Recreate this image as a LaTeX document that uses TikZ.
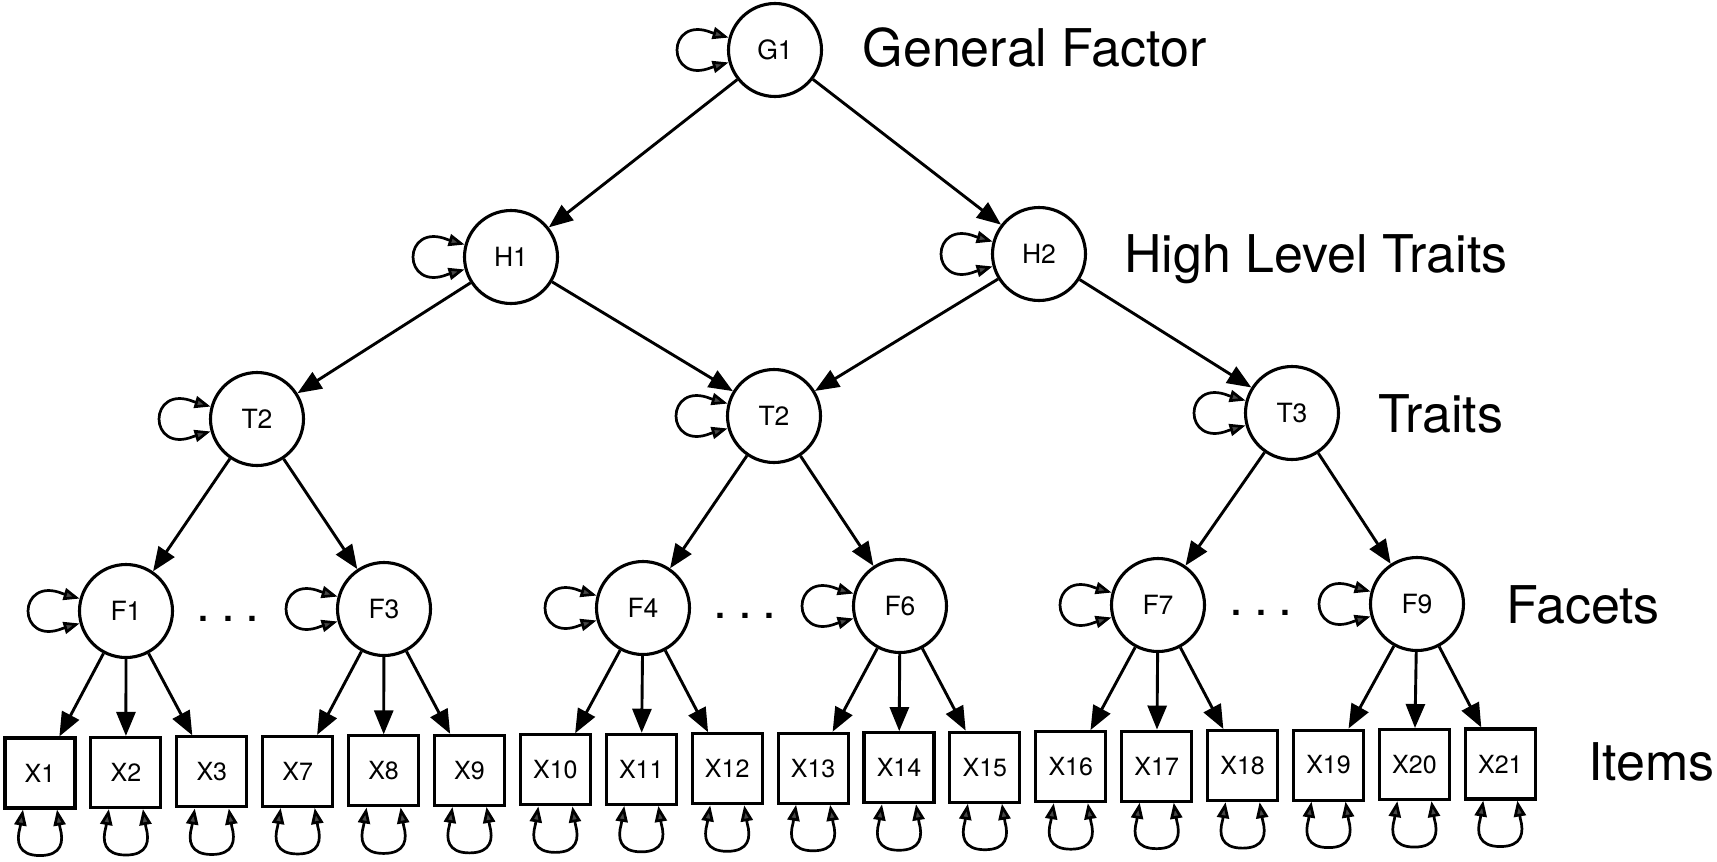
\documentclass[tikz,border=0pt]{standalone}
\usepackage{fontspec}
\setmainfont{TeX Gyre Heros}
\usetikzlibrary{arrows.meta}
\definecolor{tipgray}{gray}{0.28}
\begin{document}
\begin{tikzpicture}[x=1pt,y=-1pt,
  latent/.style={circle,draw,line width=3.1pt,minimum size=93pt,inner sep=0pt,
    font=\fontsize{26.5}{30}\selectfont},
  item/.style={rectangle,draw,line width=3.1pt,minimum size=70pt,inner sep=0pt,
    font=\fontsize{25}{29}\selectfont},
  level/.style={anchor=base west,inner sep=0pt,font=\fontsize{52}{62}\selectfont},
  dots/.style={anchor=base,inner sep=0pt,font=\fontsize{50}{60}\selectfont},
  load/.style={line width=2.9pt,-{Triangle[length=24pt,width=19pt]}},
  var/.style={line width=2.7pt,
    {Triangle[length=16pt,width=12pt,fill=tipgray]}-{Triangle[length=16pt,width=12pt,fill=tipgray]}},
]
\useasboundingbox (0,0) rectangle (1717,862);

% latent variables
\node[latent] (G1)  at (775,50)  {G1};
\node[latent] (H1)  at (511,257) {H1};
\node[latent] (H2)  at (1039,254) {H2};
\node[latent] (T2a) at (257,419) {T2};
\node[latent] (T2b) at (774,416) {T2};
\node[latent] (T3)  at (1292,413) {T3};
\node[latent] (F1)  at (126,611) {F1};
\node[latent] (F3)  at (384,609) {F3};
\node[latent] (F4)  at (643,608) {F4};
\node[latent] (F6)  at (900,606) {F6};
\node[latent] (F7)  at (1158,605) {F7};
\node[latent] (F9)  at (1417,604) {F9};

% variance loops on the latent variables, bulging to the left
\foreach \n in {G1,H1,H2,T2a,T2b,T3,F1,F3,F4,F6,F7,F9}
  \draw[var] (\n.165) -- ([shift={(-17,-5)}]\n.165)
     .. controls +(-22,-9) and +(0,-14) .. ([shift={(-98,0)}]\n.center)
     .. controls +(0,14) and +(-22,9) .. ([shift={(-17,5)}]\n.195) -- (\n.195);

% observed items with their variance loops below
\foreach \lab [count=\k from 0] in {1,2,3,7,8,9,10,11,12,13,14,15,16,17,18,19,20,21}{
  \pgfmathsetmacro\xx{40+85.9*\k}
  \pgfmathsetmacro\yy{773-0.53*\k}
  \node[item] (X\lab) at (\xx,\yy) {X\lab};
  \draw[var] ([xshift=-17pt]X\lab.south) -- ([shift={(-20,18)}]X\lab.south)
     .. controls +(-4,14) and +(-22,0) .. ([shift={(0,46)}]X\lab.south)
     .. controls +(22,0) and +(4,14) .. ([shift={(20,18)}]X\lab.south) -- ([xshift=17pt]X\lab.south);
}

% loadings
\foreach \a/\b in {G1/H1,G1/H2,H1/T2a,H1/T2b,H2/T2b,H2/T3,
    T2a/F1,T2a/F3,T2b/F4,T2b/F6,T3/F7,T3/F9,
    F1/X1,F1/X2,F1/X3,F3/X7,F3/X8,F3/X9,
    F4/X10,F4/X11,F4/X12,F6/X13,F6/X14,F6/X15,
    F7/X16,F7/X17,F7/X18,F9/X19,F9/X20,F9/X21}
  \draw[load] (\a) -- (\b);

% ellipses between facets
\node[dots] (d1) at (228,621)  {.\hspace{11pt}.\hspace{11pt}.};
\node[dots] (d2) at (745,618)  {.\hspace{11pt}.\hspace{11pt}.};
\node[dots] (d3) at (1261,615) {.\hspace{11pt}.\hspace{11pt}.};

% level labels
\node[level] (lg) at (862.5,66) {General Factor};
\node[level] (lh) at (1124,272) {High Level Traits};
\node[level] (lt) at (1378,432) {Traits};
\node[level] (lf) at (1506,623) {Facets};
\node[level] (li) at (1588,780) {Items};
\end{tikzpicture}
\end{document}
